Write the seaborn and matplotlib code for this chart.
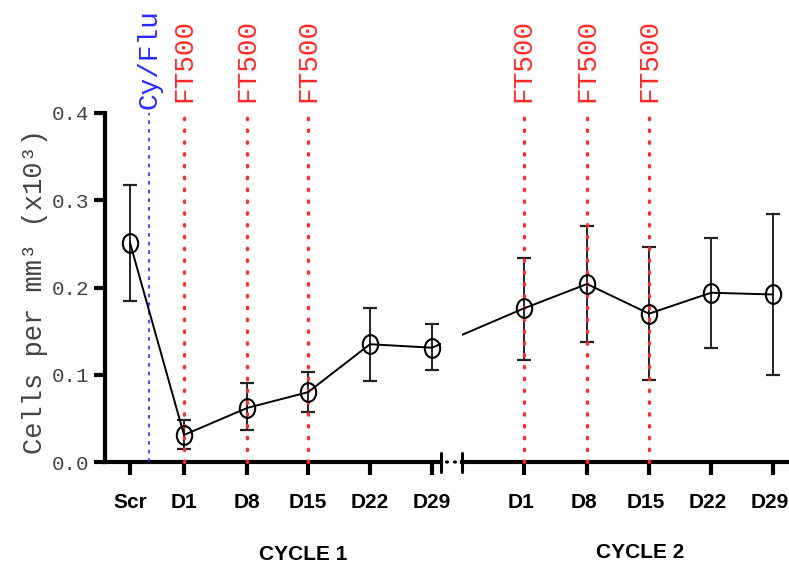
import numpy as np
import pandas as pd
import matplotlib
matplotlib.use("Agg")
import matplotlib.pyplot as plt
import seaborn as sns
from matplotlib.path import Path
from matplotlib.transforms import Affine2D, ScaledTranslation

# ---------------- data ----------------
labels_c1 = ["Scr", "D1", "D8", "D15", "D22", "D29"]
means_c1 = [0.251, 0.031, 0.062, 0.080, 0.135, 0.131]
lower_c1 = [0.185, 0.0145, 0.037, 0.057, 0.093, 0.105]
upper_c1 = [0.317, 0.048, 0.090, 0.103, 0.177, 0.158]

labels_c2 = ["D1", "D8", "D15", "D22", "D29"]
means_c2 = [0.176, 0.204, 0.170, 0.194, 0.192]
lower_c2 = [0.117, 0.137, 0.094, 0.131, 0.100]
upper_c2 = [0.234, 0.270, 0.246, 0.257, 0.284]

y_ticks = [0.0, 0.1, 0.2, 0.3, 0.4]
treatment_label = "FT500"
chemo_label = "Cy/Flu"
treatment_days = ["D1", "D8", "D15"]
cycle_titles = ["CYCLE 1", "CYCLE 2"]
y_title = "Cells per mm\u00b3 (x10\u00b3)"

# ---------------- layout (positions on the x scale) ----------------
pos_c1 = [-0.87, 0.0, 1.02, 2.0, 3.0, 4.0]
pos_c2 = [5.48, 6.5, 7.5, 8.5, 9.5]
chemo_pos = -0.56

sns.set_style("ticks")
plt.rcParams["font.family"] = ["Liberation Mono", "DejaVu Sans"]
plt.rcParams["axes.edgecolor"] = "black"
plt.rcParams["xtick.color"] = "black"
plt.rcParams["ytick.color"] = "black"
plt.rcParams["text.color"] = "black"

W, H = 789, 568
fig = plt.figure(figsize=(W / 100, H / 100), dpi=100)

unit = 62.0
x0px = 184.0
y0px, y1px = 462.0, 113.0


def px2ax(left, right):
    return [left / W, (H - y0px) / H, (right - left) / W, (y0px - y1px) / H]


axL = fig.add_axes(px2ax(105, 441))
axR = fig.add_axes(px2ax(462, 789))
axL.set_xlim((105 - x0px) / unit, (441 - x0px) / unit)
axR.set_xlim((462 - x0px) / unit, (789 - x0px) / unit)

df = pd.DataFrame({
    "pos": pos_c1 + pos_c2,
    "mean": means_c1 + means_c2,
    "lo": lower_c1 + lower_c2,
    "hi": upper_c1 + upper_c2,
})

ellipse = Path(Affine2D().scale(0.82, 1.0).transform(Path.unit_circle().vertices),
               Path.unit_circle().codes)

red = "#ff2a2a"
blue = "#2a2aff"

for ax in (axL, axR):
    ax.set_ylim(0, 0.4)
    ax.errorbar(df["pos"], df["mean"],
                yerr=[df["mean"] - df["lo"], df["hi"] - df["mean"]],
                fmt="none", ecolor="#222222", elinewidth=1.4, capsize=5,
                capthick=1.6, zorder=2)
    sns.lineplot(data=df, x="pos", y="mean", ax=ax, sort=False,
                 color="black", linewidth=1.4, marker=ellipse, markersize=13.5,
                 markerfacecolor="none", markeredgecolor="black",
                 markeredgewidth=1.5, zorder=4)
    ax.set_xlabel("")
    ax.set_ylabel("")
    for s in ("top", "right"):
        ax.spines[s].set_visible(False)
    ax.spines["bottom"].set_linewidth(3.0)
    ax.spines["left"].set_linewidth(3.0)
    ax.spines["bottom"].set_color("black")
    ax.spines["left"].set_color("black")
    ax.tick_params(axis="x", length=9.5, width=3.0, pad=13, labelsize=15,
                   colors="black")
    ax.tick_params(axis="y", length=8, width=3.0, pad=3, labelsize=15,
                   labelcolor="#444444", color="black")


def vline(ax, x, top, color, ls, lw):
    ax.plot([x, x], [0, top], color=color, linestyle=ls, linewidth=lw,
            clip_on=False, zorder=3, solid_capstyle="round",
            dash_capstyle="round")


for ax, labs, poss in ((axL, labels_c1, pos_c1), (axR, labels_c2, pos_c2)):
    for lab, p in zip(labs, poss):
        if lab in treatment_days:
            vline(ax, p, 0.406, red, (0, (0.5, 3.2)), 2.3)
            ax.text(p, 0.4125, treatment_label, rotation=90, ha="center",
                    va="bottom", color=red, fontsize=20, clip_on=False)

axL.plot([chemo_pos, chemo_pos], [0, 0.40], color=blue, linestyle=(0, (2.2, 3.0)),
         linewidth=1.2, clip_on=False, zorder=3)
axL.text(chemo_pos, 0.4045, chemo_label, rotation=90, ha="center", va="bottom",
         color=blue, fontsize=20, clip_on=False)

# ticks
axL.set_xticks(pos_c1)
axL.set_xticklabels(labels_c1, fontfamily="Liberation Sans", fontweight="bold",
                    color="black")
axR.set_xticks(pos_c2)
axR.set_xticklabels(labels_c2, fontfamily="Liberation Sans", fontweight="bold",
                    color="black")
shift = ScaledTranslation(-3 / 100, 0, fig.dpi_scale_trans)
for t in axR.get_xticklabels():
    t.set_transform(t.get_transform() + shift)
axL.set_yticks(y_ticks)
axL.set_yticklabels([f"{v:.1f}" for v in y_ticks])
axR.spines["left"].set_visible(False)
axR.tick_params(axis="y", left=False, labelleft=False)

# axis break marks
bh = 9.5 / (y0px - y1px)
axL.plot([1, 1], [-bh, bh], transform=axL.transAxes, color="black", lw=2.2,
         clip_on=False)
axR.plot([0, 0], [-bh, bh], transform=axR.transAxes, color="black", lw=2.2,
         clip_on=False)
for xd in (447, 455):
    fig.patches.append(plt.Circle((xd / W, (H - y0px) / H), 1.3 / W,
                                  transform=fig.transFigure, color="black"))

# labels
fig.text(35 / W, 1 - 292 / H, y_title, rotation=90, ha="center", va="center",
         fontsize=19.5, color="#444444")
fig.text(303 / W, 1 - 555 / H, cycle_titles[0], ha="center", va="center",
         fontsize=15, fontweight="bold", fontfamily="Liberation Sans",
         color="black")
fig.text(640 / W, 1 - 553 / H, cycle_titles[1], ha="center", va="center",
         fontsize=15, fontweight="bold", fontfamily="Liberation Sans",
         color="black")

fig.savefig("out.png", dpi=100)
